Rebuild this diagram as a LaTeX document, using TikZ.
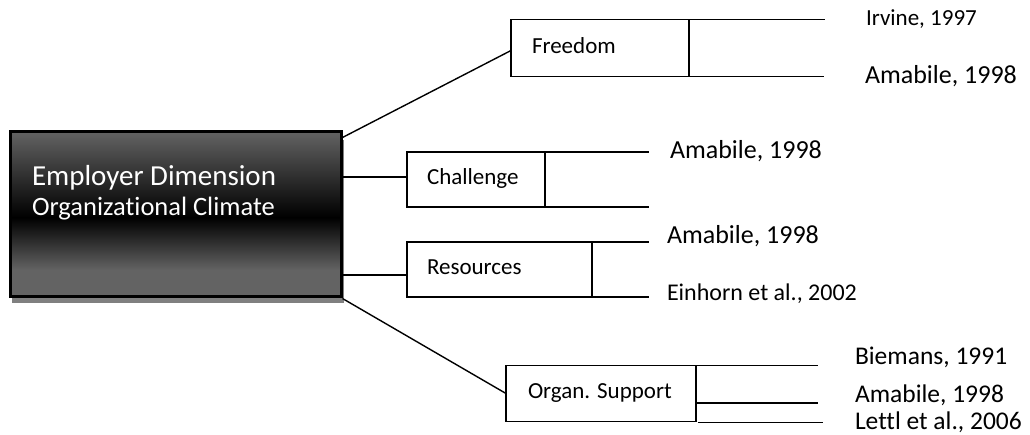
\documentclass[tikz,border=0pt]{standalone}
\usepackage{fontspec}
\setmainfont{Carlito}[Ligatures=NoCommon]
\usetikzlibrary{calc}

\definecolor{boxgray}{HTML}{636363}
\definecolor{shadowgray}{HTML}{808080}

% dark band across the middle of the climate box
\pgfdeclareverticalshading{climateshade}{100bp}{%
  color(0bp)=(boxgray); color(33bp)=(boxgray);
  color(49bp)=(black); color(75bp)=(boxgray); color(100bp)=(boxgray)}

\begin{document}
\begin{tikzpicture}[x=1pt,y=-1pt,
  mainbox/.style={draw=black, line width=2.6pt, shading=climateshade,
    anchor=north west, inner sep=0pt, outer sep=0pt},
  branch/.style={draw=black, line width=1.4pt, anchor=north west,
    inner sep=0pt, outer sep=0pt, minimum height=55pt},
  link/.style={draw=black, line width=1.4pt},
  lab/.style={anchor=base west, inner sep=0pt, outer sep=0pt,
    font=\fontsize{#1}{#1}\selectfont},
  whitelab/.style={lab=#1, text=white}]

\useasboundingbox (0,0) rectangle (1030,434);

% drop shadow and main box
\fill[shadowgray] (12,140) rectangle (343.5,303);
\node[mainbox, minimum width=331pt, minimum height=165pt] (climate) at (10.5,131.5) {};
\node[whitelab=29] (emp) at (32,185) {Employer Dimension};
\node[whitelab=26.5] (org) at (32,215.5) {Organizational Climate};

% Freedom
\node[branch, minimum width=178pt, minimum height=57pt] (freedom) at (511,19.5) {};
\node[lab=23] (freedom-lab) at (532,53.5) {Freedom};
\coordinate (fr-top) at (825,19.5);
\coordinate (fr-bot) at (824,76.5);
\draw[link] (freedom.north east) -- (fr-top);
\draw[link] (freedom.south east) -- (fr-bot);
\node[lab=23] (irvine) at (866,25) {Irvine, 1997};
\node[lab=26] (fr-amabile) at (865,83) {Amabile, 1998};

% Challenge
\node[branch, minimum width=138pt] (challenge) at (407,152) {};
\node[lab=23] (challenge-lab) at (427,184) {Challenge};
\coordinate (ch-top) at (649,152);
\coordinate (ch-bot) at (649,207);
\draw[link] (challenge.north east) -- (ch-top);
\draw[link] (challenge.south east) -- (ch-bot);
\node[lab=26] (ch-amabile) at (670,158) {Amabile, 1998};

% Resources
\node[branch, minimum width=185pt] (resources) at (407,242) {};
\node[lab=23] (resources-lab) at (427,274) {Resources};
\coordinate (rs-top) at (649,242);
\coordinate (rs-bot) at (649,297);
\draw[link] (resources.north east) -- (rs-top);
\draw[link] (resources.south east) -- (rs-bot);
\node[lab=26] (rs-amabile) at (667,243) {Amabile, 1998};
\node[lab=24] (einhorn) at (667,300) {Einhorn et al., 2002};

% Organ. Support
\node[branch, minimum width=190pt, minimum height=56pt] (support) at (506,365.5) {};
\node[lab=23] (support-lab) at (528,398.5) {Organ. Support};
\coordinate (os-top) at (818,365.5);
\coordinate (os-mid-a) at (697,403);
\coordinate (os-mid-b) at (818,403);
\coordinate (os-bot-a) at (698,422.5);
\coordinate (os-bot-b) at (823,422.5);
\draw[link] (support.north east) -- (os-top);
\draw[link] (os-mid-a) -- (os-mid-b);
\draw[link] (os-bot-a) -- (os-bot-b);
\node[lab=25.5] (biemans) at (855,364) {Biemans, 1991};
\node[lab=25.5] (os-amabile) at (855,402) {Amabile, 1998};
\node[lab=25.5] (lettl) at (855,429) {Lettl et al., 2006};

% connectors from the climate box
\draw[link] ($(climate.north east)+(0,6.5)$) -- ($(freedom.west)+(0,2.5)$);
\draw[link] ($(climate.east |- challenge.west)+(0,-2.5)$) -- ($(challenge.west)+(0,-2.5)$);
\draw[link] ($(climate.east |- resources.west)+(0,5.5)$) -- ($(resources.west)+(0,5.5)$);
\draw[link] ($(climate.south east)+(1,2)$) -- (support.west);
\end{tikzpicture}
\end{document}
